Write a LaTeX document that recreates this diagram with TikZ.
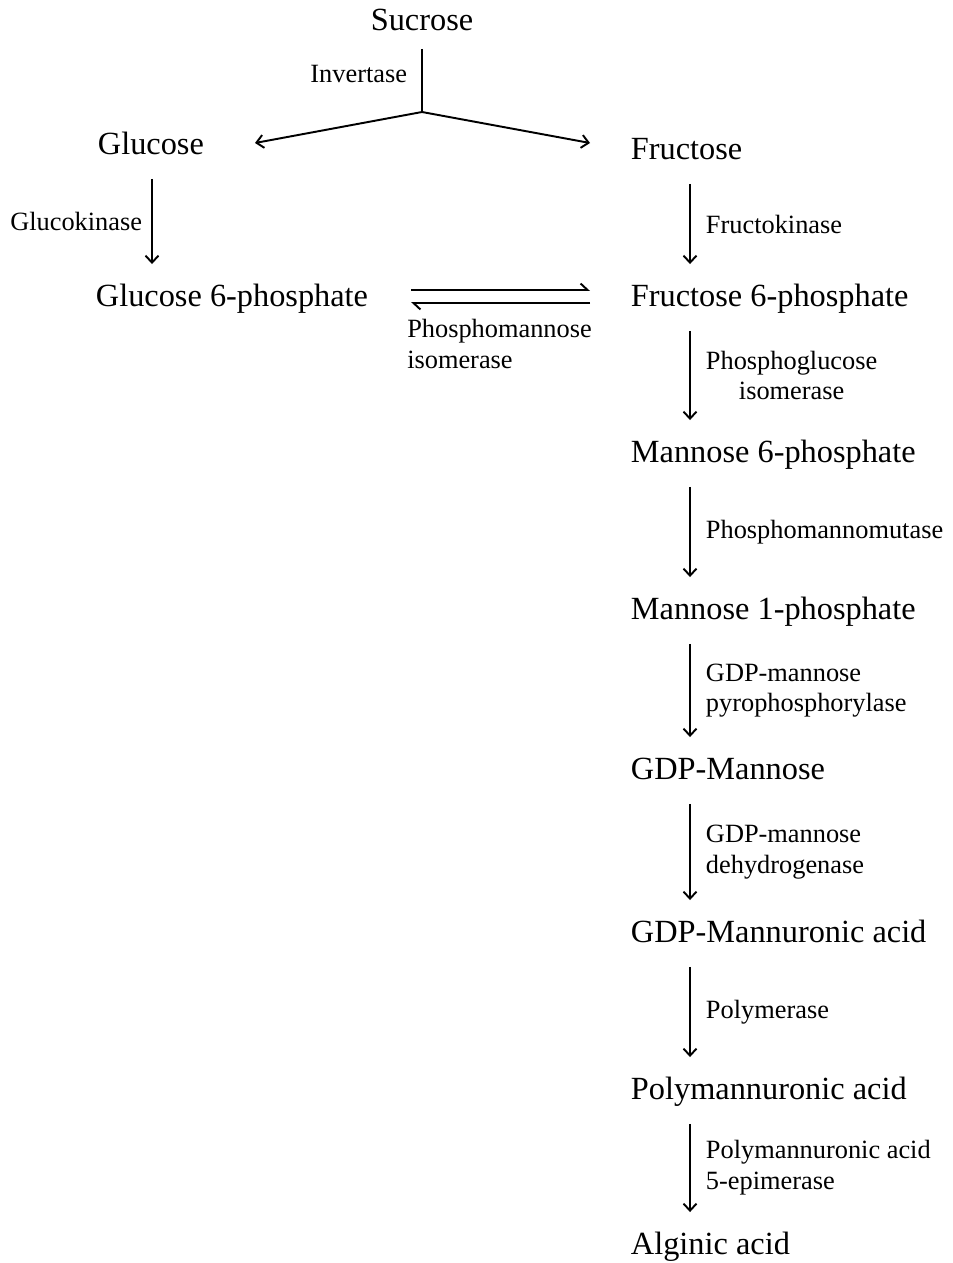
\documentclass[tikz,border=0pt]{standalone}
\usepackage{fontspec}
\setmainfont{Liberation Serif}
\usetikzlibrary{arrows.meta}

\newcommand{\cmpdfont}{\fontsize{18.4}{21}\selectfont}
\newcommand{\enzfont}{\fontsize{15}{17.5}\selectfont}

\begin{document}
\begin{tikzpicture}[>={Straight Barb[length=1.4mm,width=2.6mm]},line width=1.1pt,
  cmpd/.style={font=\cmpdfont,inner sep=0pt,anchor=base west,text height=0.44cm,text depth=0.1cm},
  enz/.style={font=\enzfont,inner sep=0pt,align=left},
  rxn/.style={->,shorten <=0.38cm,shorten >=0.38cm},
  eqarrow/.style={-{Straight Barb[left,length=1.4mm,width=2.6mm]}}]

\useasboundingbox (0,0) rectangle (19.06,-25.26);

%------------------------------------------------
% Compounds
%------------------------------------------------
\node[cmpd,anchor=base] (suc) at (8.44,-0.62) {Sucrose};
\node[cmpd] (glc) at (1.94,-3.08) {Glucose};
\node[cmpd] (fru) at (12.6,-3.18) {Fructose};
\node[cmpd] (g6p) at (1.9,-6.12) {Glucose 6-phosphate};
\node[cmpd] (f6p) at (12.6,-6.12) {Fructose 6-phosphate};
\node[cmpd] (m6p) at (12.6,-9.24) {Mannose 6-phosphate};
\node[cmpd] (m1p) at (12.6,-12.38) {Mannose 1-phosphate};
\node[cmpd] (gdpm) at (12.6,-15.58) {GDP-Mannose};
\node[cmpd] (gdpma) at (12.6,-18.84) {GDP-Mannuronic acid};
\node[cmpd] (pma) at (12.6,-21.98) {Polymannuronic acid};
\node[cmpd] (alg) at (12.6,-25.08) {Alginic acid};

% columns of the arrows
\coordinate (lx) at (3.04,0);
\coordinate (rx) at (13.8,0);

%------------------------------------------------
% Invertase fork
%------------------------------------------------
\coordinate (fork) at (8.44,-2.24);
\coordinate (glcend) at (5.1,-2.86);
\coordinate (fruend) at (11.8,-2.86);

\draw[shorten <=0.24cm] (suc.south) -- (fork)
  node[midway,left=0.28cm,enz]{Invertase};
\draw[->] (fork) -- (glcend);
\draw[->] (fork) -- (fruend);

%------------------------------------------------
% Kinases
%------------------------------------------------
\draw[rxn] (glc.south -| lx) -- (g6p.north -| lx)
  node[midway,left=0.18cm,enz]{Glucokinase};
\draw[rxn] (fru.south -| rx) -- (f6p.north -| rx)
  node[midway,right=0.3cm,enz]{Fructokinase};

% Equilibrium
\draw[eqarrow,shorten <=0.84cm,shorten >=0.8cm] ([yshift=0.15cm]g6p.east) -- ([yshift=0.15cm]f6p.west);
\draw[eqarrow,shorten <=0.8cm,shorten >=0.84cm] ([yshift=-0.11cm]f6p.west) -- ([yshift=-0.11cm]g6p.east)
  node[midway,below=0.3cm,enz]{Phosphomannose\\isomerase};

%------------------------------------------------
% Main pathway
%------------------------------------------------
\draw[rxn] (f6p.south -| rx) -- (m6p.north -| rx)
  node[midway,right=0.3cm,enz,align=center]{Phosphoglucose\\isomerase};
\draw[rxn] (m6p.south -| rx) -- (m1p.north -| rx)
  node[midway,right=0.3cm,enz]{Phosphomannomutase};
\draw[rxn] (m1p.south -| rx) -- (gdpm.north -| rx)
  node[midway,right=0.3cm,enz]{GDP-mannose\\pyrophosphorylase};
\draw[rxn] (gdpm.south -| rx) -- (gdpma.north -| rx)
  node[midway,right=0.3cm,enz]{GDP-mannose\\dehydrogenase};
\draw[rxn] (gdpma.south -| rx) -- (pma.north -| rx)
  node[midway,right=0.3cm,enz]{Polymerase};
\draw[rxn] (pma.south -| rx) -- (alg.north -| rx)
  node[midway,right=0.3cm,enz]{Polymannuronic acid\\5-epimerase};

\end{tikzpicture}
\end{document}
